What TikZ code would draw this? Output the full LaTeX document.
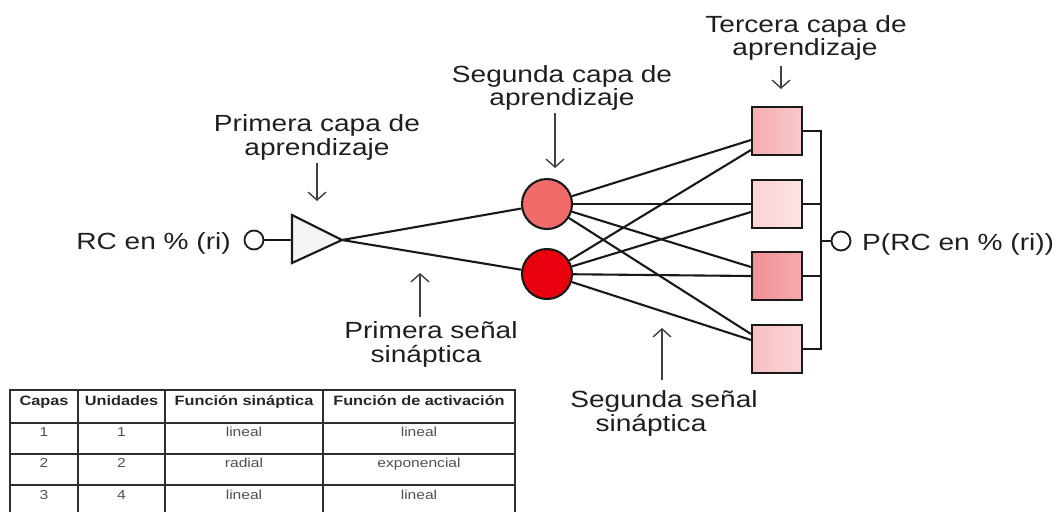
\documentclass[tikz,border=0pt]{standalone}
\usepackage{fontspec}
\setmainfont{Liberation Sans}[FakeStretch=1.2]
\usetikzlibrary{arrows.meta,calc}
\definecolor{triFill}{HTML}{F7F4F4}
\definecolor{nOne}{HTML}{F26B6B}
\definecolor{nTwo}{HTML}{E8000E}
\definecolor{sOneL}{HTML}{F4AEB2}\definecolor{sOneR}{HTML}{F9C8CB}
\definecolor{sTwoL}{HTML}{FAD3D3}\definecolor{sTwoR}{HTML}{FDE3E3}
\definecolor{sThrL}{HTML}{F08F93}\definecolor{sThrR}{HTML}{F6ABAE}
\definecolor{sFouL}{HTML}{F7BFC2}\definecolor{sFouR}{HTML}{FBD5D7}
\definecolor{gridcol}{HTML}{2E2E2E}
\definecolor{celltext}{HTML}{505050}
\begin{document}
\begin{tikzpicture}[x=1pt,y=-1pt,
  lab/.style={font=\fontsize{23.4}{25}\selectfont, inner sep=0, anchor=base, text=black!88},
  pointer/.style={draw=black!75, line width=1.4pt, -{Straight Barb[length=8pt,width=18pt,line width=1.4pt]}},
  wire/.style={line width=2.1pt, draw=black!90},
  neuron/.style={circle, draw=black!90, line width=2.1pt, minimum size=50pt, inner sep=0},
  unit/.style={rectangle, draw=black!90, line width=2.1pt, minimum width=50pt, minimum height=48pt, inner sep=0},
  port/.style={circle, draw=black!90, line width=1.8pt, minimum size=19pt, inner sep=0, fill=white},
  grid/.style={draw=gridcol, line width=2.5pt},
  head/.style={font=\fontsize{13.6}{15}\selectfont\bfseries, inner sep=0, anchor=base, text=black!85},
  cell/.style={font=\fontsize{13}{14}\selectfont, inner sep=0, anchor=base, text=celltext}
]
\useasboundingbox (0,0) rectangle (1061,512);

% input
\node[lab, anchor=base east] (inlab) at (231,249) {RC en \% (ri)};
\node[port] (inport) at (254,240) {};
\coordinate (tleft) at (292,240);
\coordinate (tapex) at (342,240);
\draw[wire, fill=triFill, line join=miter] (292,215) -- (tapex) -- (292,263) -- cycle;
\draw[wire] (inport) -- (tleft);

% second layer
\node[neuron, fill=nOne] (c1) at (547,204) {};
\node[neuron, fill=nTwo] (c2) at (547,274) {};

% third layer
\node[unit, left color=sOneL, right color=sOneR, draw=black!90] (s1) at (777,131) {};
\node[unit, left color=sTwoL, right color=sTwoR, draw=black!90] (s2) at (777,204) {};
\node[unit, left color=sThrL, right color=sThrR, draw=black!90] (s3) at (777,276) {};
\node[unit, left color=sFouL, right color=sFouR, draw=black!90] (s4) at (777,349) {};

% first synaptic signal
\draw[wire] (tapex) -- (c1);
\draw[wire] (tapex) -- (c2);

% second synaptic signal
\draw[wire] (c1) -- ($(s1.west)+(0,9)$);
\draw[wire] (c1) -- (s2.west);
\draw[wire] (c1) -- ($(s3.west)+(0,-9)$);
\draw[wire] (c1) -- ($(s4.west)+(0,-15)$);
\draw[wire] (c2) -- ($(s1.west)+(0,19)$);
\draw[wire] (c2) -- ($(s2.west)+(0,8)$);
\draw[wire] (c2) -- (s3.west);
\draw[wire] (c2) -- ($(s4.west)+(0,-9)$);

% output bus
\coordinate (bustop) at (821,131);
\coordinate (busbot) at (821,349);
\coordinate (busmid) at (821,241);
\draw[wire] (s1.east) -- (bustop) -- (busbot) -- (s4.east);
\draw[wire] (s2.east) -- (s2.east -| busmid);
\draw[wire] (s3.east) -- (s3.east -| busmid);
\node[port] (outport) at (841,241) {};
\draw[wire] (busmid) -- (outport);
\node[lab, anchor=base west] (outlab) at (862,250) {P(RC en \% (ri))};

% labels and pointers
\node[lab] (l1a) at (317,131) {Primera capa de};
\node[lab] (l1b) at (317,155) {aprendizaje};
\coordinate (p1s) at (317,163); \coordinate (p1e) at (317,201);
\draw[pointer] (p1s) -- (p1e);

\node[lab] (l2a) at (562,82) {Segunda capa de};
\node[lab] (l2b) at (562,105) {aprendizaje};
\coordinate (p2s) at (555,113); \coordinate (p2e) at (555,168);
\draw[pointer] (p2s) -- (p2e);

\node[lab] (l3a) at (806,32) {Tercera capa de};
\node[lab] (l3b) at (805,55) {aprendizaje};
\coordinate (p3s) at (781,66); \coordinate (p3e) at (781,89);
\draw[pointer] (p3s) -- (p3e);

\node[lab] (l4a) at (431,338) {Primera señal};
\node[lab] (l4b) at (426,362) {sináptica};
\coordinate (p4s) at (420,317); \coordinate (p4e) at (420,273);
\draw[pointer] (p4s) -- (p4e);

\node[lab] (l5a) at (664,407) {Segunda señal};
\node[lab] (l5b) at (651,431) {sináptica};
\coordinate (p5s) at (662,380); \coordinate (p5e) at (662,328);
\draw[pointer] (p5s) -- (p5e);

% table
\draw[grid] (10,512) -- (10,390) -- (515,390) -- (515,512);
\draw[grid] (10,423) -- (515,423);
\draw[grid] (10,454) -- (515,454);
\draw[grid] (10,485) -- (515,485);
\draw[grid] (78,390) -- (78,512);
\draw[grid] (165,390) -- (165,512);
\draw[grid] (323,390) -- (323,512);

\node[head] (h1) at (44,405) {Capas};
\node[head] (h2) at (121.5,405) {Unidades};
\node[head] (h3) at (244,405) {Función sináptica};
\node[head] (h4) at (419,405) {Función de activación};

\node[cell] (r1a) at (44,436) {1};
\node[cell] (r1b) at (121.5,436) {1};
\node[cell] (r1c) at (244,436) {lineal};
\node[cell] (r1d) at (419,436) {lineal};
\node[cell] (r2a) at (44,467) {2};
\node[cell] (r2b) at (121.5,467) {2};
\node[cell] (r2c) at (244,467) {radial};
\node[cell] (r2d) at (419,467) {exponencial};
\node[cell] (r3a) at (44,499) {3};
\node[cell] (r3b) at (121.5,499) {4};
\node[cell] (r3c) at (244,499) {lineal};
\node[cell] (r3d) at (419,499) {lineal};
\end{tikzpicture}
\end{document}
